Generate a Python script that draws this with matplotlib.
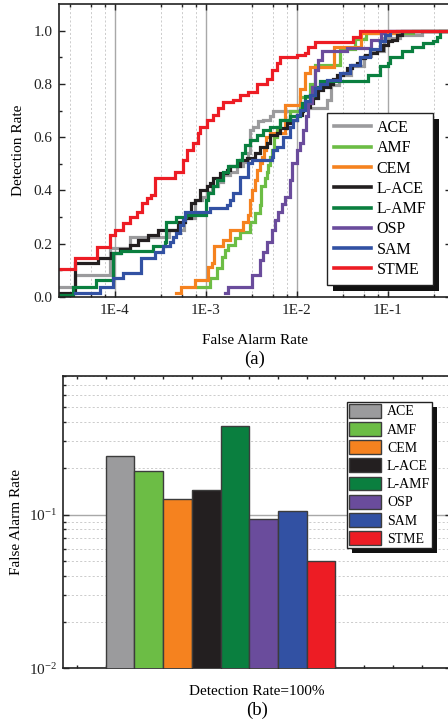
import numpy as np
import matplotlib
matplotlib.use('Agg')
import matplotlib.pyplot as plt
from matplotlib.patches import Rectangle
from matplotlib.lines import Line2D
from matplotlib.ticker import FixedLocator, NullFormatter, FixedFormatter, LogLocator
from matplotlib.transforms import IdentityTransform

plt.rcParams['font.family'] = ['Liberation Serif', 'DejaVu Serif']
plt.rcParams['mathtext.fontset'] = 'custom'
plt.rcParams['mathtext.rm'] = 'Liberation Serif'
plt.rcParams['mathtext.it'] = 'Liberation Serif:italic'

# ---------------- data ----------------
methods = ['ACE', 'AMF', 'CEM', 'L-ACE', 'L-AMF', 'OSP', 'SAM', 'STME']
colors = ['#9b9b9d', '#6cbd45', '#f5821f', '#231f20', '#0a7f3f', '#6a4c9c', '#3251a3', '#ed1c24']

ace_far = [2.38e-5, 3.66e-5, 8.87e-5, 1.47e-4, 3.94e-4, 5.78e-4, 7.62e-4, 9.10e-4, 1.03e-3, 1.16e-3,
           1.38e-3, 1.56e-3, 1.85e-3, 2.19e-3, 2.60e-3, 2.92e-3, 3.07e-3, 3.34e-3, 3.78e-3, 4.30e-3,
           5.09e-3, 5.53e-3, 1.09e-2, 2.17e-2, 2.36e-2, 2.92e-2, 3.92e-2, 5.49e-2, 6.50e-2, 9.10e-2,
           1.37e-1, 2.39e-1]
ace_dr = [0.039, 0.083, 0.184, 0.227, 0.252, 0.296, 0.365, 0.377, 0.396, 0.415,
          0.433, 0.459, 0.471, 0.49, 0.508, 0.54, 0.628, 0.64, 0.659, 0.665,
          0.678, 0.70, 0.71, 0.74, 0.797, 0.835, 0.866, 0.903, 0.922, 0.972,
          0.985, 1.0]

amf_far = [8.23e-4, 1.11e-3, 1.32e-3, 1.50e-3, 1.64e-3, 1.74e-3, 2.11e-3, 2.38e-3, 3.07e-3, 3.48e-3,
           3.95e-3, 4.05e-3, 4.49e-3, 4.68e-3, 4.88e-3, 5.09e-3, 5.31e-3, 5.63e-3, 6.08e-3, 6.56e-3,
           8.45e-3, 1.09e-2, 1.40e-2, 1.59e-2, 2.99e-2, 4.38e-2, 5.78e-2, 1.91e-1]
amf_dr = [0.039, 0.07, 0.108, 0.152, 0.177, 0.195, 0.22, 0.245, 0.283, 0.315,
          0.346, 0.415, 0.446, 0.47, 0.496, 0.527, 0.553, 0.60, 0.64, 0.665,
          0.70, 0.75, 0.80, 0.87, 0.93, 0.97, 0.99, 1.0]

cem_far = [4.74e-4, 5.38e-4, 7.62e-4, 1.06e-3, 1.17e-3, 1.22e-3, 1.55e-3, 1.85e-3, 2.57e-3, 2.92e-3,
           3.07e-3, 3.23e-3, 3.48e-3, 3.66e-3, 3.95e-3, 4.16e-3, 4.32e-3, 4.60e-3, 5.09e-3, 7.45e-3,
           1.09e-2, 1.24e-2, 1.40e-2, 2.57e-2, 5.08e-2, 1.27e-1]
cem_dr = [0.015, 0.039, 0.064, 0.114, 0.127, 0.19, 0.214, 0.252, 0.283, 0.308,
          0.365, 0.40, 0.44, 0.477, 0.503, 0.527, 0.553, 0.60, 0.617, 0.72,
          0.78, 0.84, 0.865, 0.94, 0.99, 1.0]

lace_far = [2.38e-5, 3.66e-5, 6.55e-5, 9.18e-5, 1.14e-4, 1.46e-4, 1.80e-4, 2.32e-4, 2.99e-4, 4.97e-4,
            5.88e-4, 6.95e-4, 7.57e-4, 8.59e-4, 1.03e-3, 1.11e-3, 1.20e-3, 1.44e-3, 1.70e-3, 1.85e-3,
            2.38e-3, 2.82e-3, 3.48e-3, 3.95e-3, 4.68e-3, 5.09e-3, 6.03e-3, 6.56e-3, 7.77e-3, 8.45e-3,
            1.00e-2, 1.14e-2, 1.17e-2, 1.40e-2, 1.51e-2, 1.72e-2, 1.95e-2, 2.32e-2, 2.51e-2, 2.75e-2,
            3.23e-2, 3.54e-2, 4.02e-2, 4.56e-2, 4.97e-2, 5.63e-2, 6.38e-2, 7.57e-2, 8.88e-2, 1.01e-1,
            1.11e-1, 1.27e-1, 1.45e-1]
lace_dr = [0.016, 0.127, 0.145, 0.164, 0.179, 0.195, 0.214, 0.233, 0.252, 0.283,
           0.296, 0.352, 0.365, 0.40, 0.415, 0.427, 0.447, 0.466, 0.477, 0.49,
           0.515, 0.52, 0.54, 0.565, 0.578, 0.61, 0.617, 0.634, 0.653, 0.665,
           0.684, 0.697, 0.715, 0.728, 0.747, 0.778, 0.79, 0.80, 0.82, 0.835,
           0.84, 0.86, 0.872, 0.88, 0.897, 0.91, 0.915, 0.929, 0.947, 0.96,
           0.966, 0.985, 1.0]

lamf_far = [2.38e-5, 3.48e-5, 6.28e-5, 9.6e-5, 1.18e-4, 2.66e-4, 3.57e-4, 3.69e-4, 4.75e-4, 6.12e-4,
            1.01e-3, 1.06e-3, 1.20e-3, 1.32e-3, 1.55e-3, 1.76e-3, 2.19e-3, 2.49e-3, 2.70e-3, 3.07e-3,
            3.63e-3, 4.30e-3, 5.09e-3, 6.56e-3, 8.45e-3, 1.09e-2, 1.14e-2, 1.24e-2, 1.51e-2, 1.80e-2,
            6.12e-2, 8.30e-2, 1.01e-1, 1.06e-1, 1.44e-1, 1.85e-1, 2.44e-1, 3.15e-1, 3.48e-1, 3.74e-1]
lamf_dr = [0.008, 0.039, 0.064, 0.164, 0.173, 0.19, 0.208, 0.283, 0.30, 0.308,
           0.365, 0.39, 0.415, 0.44, 0.47, 0.49, 0.515, 0.54, 0.57, 0.59,
           0.61, 0.628, 0.64, 0.665, 0.678, 0.703, 0.73, 0.753, 0.79, 0.81,
           0.835, 0.868, 0.88, 0.90, 0.922, 0.94, 0.955, 0.96, 0.977, 1.0]

osp_far = [1.64e-3, 1.77e-3, 3.23e-3, 3.95e-3, 4.27e-3, 4.72e-3, 5.36e-3, 5.78e-3, 6.24e-3, 6.90e-3,
           7.45e-3, 8.45e-3, 8.89e-3, 1.01e-2, 1.09e-2, 1.17e-2, 1.27e-2, 1.33e-2, 1.47e-2, 1.59e-2,
           1.72e-2, 1.90e-2, 3.57e-2, 6.55e-2, 8.5e-2, 9.3e-2]
osp_dr = [0.014, 0.039, 0.083, 0.139, 0.17, 0.208, 0.252, 0.29, 0.32, 0.35,
          0.377, 0.44, 0.503, 0.553, 0.578, 0.628, 0.68, 0.73, 0.79, 0.853,
          0.89, 0.922, 0.936, 0.966, 0.99, 1.0]

sam_far = [3.66e-5, 6.84e-5, 9.6e-5, 1.23e-4, 1.95e-4, 2.77e-4, 3.40e-4, 4.06e-4, 4.38e-4, 4.72e-4,
           5.22e-4, 5.64e-4, 5.93e-4, 1.11e-3, 1.70e-3, 1.85e-3, 2.00e-3, 2.38e-3, 2.92e-3, 3.23e-3,
           5.31e-3, 5.49e-3, 6.03e-3, 7.07e-3, 8.45e-3, 9.10e-3, 1.00e-2, 1.09e-2, 1.24e-2, 1.40e-2,
           1.59e-2, 1.80e-2, 2.14e-2, 2.99e-2, 3.86e-2, 4.97e-2, 6.38e-2, 8.22e-2, 9.33e-2, 1.05e-1]
sam_dr = [0.014, 0.039, 0.07, 0.089, 0.145, 0.17, 0.19, 0.208, 0.227, 0.24,
          0.27, 0.29, 0.32, 0.335, 0.346, 0.365, 0.39, 0.45, 0.503, 0.515,
          0.527, 0.553, 0.565, 0.60, 0.64, 0.665, 0.684, 0.703, 0.734, 0.76,
          0.785, 0.80, 0.816, 0.84, 0.87, 0.90, 0.93, 0.96, 0.985, 1.0]

stme_far = [2.38e-5, 3.66e-5, 6.39e-5, 8.87e-5, 1.01e-4, 1.23e-4, 1.47e-4, 1.76e-4, 2.00e-4, 2.27e-4,
            2.51e-4, 2.77e-4, 4.60e-4, 5.64e-4, 6.24e-4, 7.26e-4, 8.23e-4, 8.65e-4, 1.03e-3, 1.20e-3,
            1.36e-3, 1.55e-3, 2.00e-3, 2.38e-3, 2.92e-3, 3.66e-3, 4.72e-3, 5.36e-3, 6.08e-3, 6.56e-3,
            1.01e-2, 1.24e-2, 1.33e-2, 1.59e-2, 4.16e-2, 4.97e-2]
stme_dr = [0.105, 0.148, 0.189, 0.233, 0.252, 0.278, 0.30, 0.32, 0.353, 0.37,
           0.383, 0.446, 0.471, 0.515, 0.553, 0.578, 0.615, 0.64, 0.665, 0.684,
           0.71, 0.733, 0.74, 0.76, 0.77, 0.80, 0.82, 0.853, 0.88, 0.90,
           0.91, 0.917, 0.94, 0.959, 0.977, 1.0]

roc_far = [ace_far, amf_far, cem_far, lace_far, lamf_far, osp_far, sam_far, stme_far]
roc_dr = [ace_dr, amf_dr, cem_dr, lace_dr, lamf_dr, osp_dr, sam_dr, stme_dr]

# false alarm rate at detection rate = 100%
far_at_full = [0.239, 0.191, 0.127, 0.145, 0.374, 0.093, 0.105, 0.050]

x_major = [1e-4, 1e-3, 1e-2, 1e-1]
x_major_labels = ['1E-4', '1E-3', '1E-2', '1E-1']

# ---------------- figure ----------------
W, H = 448, 725
fig = plt.figure(figsize=(W / 100, H / 100), dpi=100)

def px_axes(left, top, right, bottom):
    return fig.add_axes([left / W, (H - bottom) / H, (right - left) / W, (bottom - top) / H])

# ---- (a) ROC ----
ax1 = px_axes(59.3, 4, 450.5, 297)
ax1.set_xscale('log')
x_right = 0.49
ax1.set_xlim(2.46e-5, x_right)
ax1.set_ylim(0, 1.1)

minor_x = [m * 10.0 ** k for k in range(-5, 0) for m in (3.25, 5.5, 7.75)]
ax1.xaxis.set_major_locator(FixedLocator(x_major))
ax1.xaxis.set_major_formatter(FixedFormatter(x_major_labels))
ax1.xaxis.set_minor_locator(FixedLocator(minor_x))
ax1.xaxis.set_minor_formatter(NullFormatter())
ax1.set_yticks(np.arange(0, 1.01, 0.2))
ax1.set_yticklabels(['%.1f' % v for v in np.arange(0, 1.01, 0.2)])
ax1.set_yticks(np.arange(0.1, 1.1, 0.2), minor=True)

ax1.grid(which='major', axis='x', color='#a8a8a8', lw=1.0, ls='-')
ax1.grid(which='minor', axis='x', color='#c4c4c4', lw=0.6, ls=(0, (2.5, 2.5)))
ax1.set_axisbelow(True)

ax1.tick_params(which='both', direction='in', top=True, right=True, width=1.0,
                labelsize=11, colors='#222222')
ax1.tick_params(which='major', length=4.5, pad=5)
ax1.tick_params(which='minor', length=2.5)
for s in ax1.spines.values():
    s.set_linewidth(1.2)
    s.set_color('#222222')

for far, dr, c in zip(roc_far, roc_dr, colors):
    xs = list(far) + [x_right * 1.2]
    ys = list(dr) + [dr[-1]]
    ax1.plot(xs, ys, drawstyle='steps-post', color=c, lw=2.3, solid_joinstyle='miter')

handles1 = [Line2D([0], [0], color=c, lw=2.6) for c in colors]
leg1 = ax1.legend(handles1, methods, loc='upper left', bbox_to_anchor=(0.684, 0.629),
                  fontsize=11.5, frameon=True, fancybox=False, edgecolor='#222222',
                  framealpha=1, handlelength=2.3, handletextpad=0.35, labelspacing=0.27,
                  borderpad=0.45, borderaxespad=0)
leg1.get_frame().set_linewidth(1.0)

fig.text(254.9 / W, (H - 340) / H, 'False Alarm Rate', ha='center', va='center', fontsize=11)
fig.text(254.9 / W, (H - 359) / H, '(a)', ha='center', va='center', fontsize=13.5)
fig.text(18 / W, (H - 150.5) / H, 'Detection Rate', ha='center', va='center',
         rotation=90, fontsize=11)

# ---- (b) bars ----
ax2 = px_axes(62.7, 375.7, 450.5, 668.3)
ax2.set_yscale('log')
ax2.set_ylim(0.01, 0.8)
ax2.set_xlim(-1, 12.51)
pos = np.arange(1, len(methods) + 1)
ax2.bar(pos, far_at_full, width=1.0, color=colors, edgecolor='#3c3c3c', lw=1.0, zorder=3)
ax2.yaxis.set_major_locator(FixedLocator([0.01, 0.1]))
ax2.yaxis.set_major_formatter(FixedFormatter([r'$10^{-2}$', r'$10^{-1}$']))
ax2.yaxis.set_minor_locator(LogLocator(base=10, subs=np.arange(2, 10)))
ax2.yaxis.set_minor_formatter(NullFormatter())
ax2.set_xticks(np.arange(-0.5, 12.6, 1.0))
ax2.set_xticklabels([])
ax2.grid(which='major', axis='y', color='#a8a8a8', lw=1.0, ls='-', zorder=0)
ax2.grid(which='minor', axis='y', color='#c4c4c4', lw=0.6, ls=(0, (2.5, 2.5)), zorder=0)
ax2.set_axisbelow(True)
ax2.tick_params(which='both', direction='in', top=True, right=True, width=1.0,
                labelsize=11, colors='#222222')
ax2.tick_params(which='major', length=4.5, pad=4)
ax2.tick_params(which='minor', length=2.5)
ax2.tick_params(axis='x', which='major', length=2.5)
for s in ax2.spines.values():
    s.set_linewidth(1.2)
    s.set_color('#222222')

handles2 = [Rectangle((0, 0), 1, 1, facecolor=c, edgecolor='#3c3c3c', lw=1.0) for c in colors]
leg2 = ax2.legend(handles2, methods, loc='upper left', bbox_to_anchor=(0.734, 0.911),
                  fontsize=10, frameon=True, fancybox=False, edgecolor='#222222',
                  framealpha=1, handlelength=2.3, handleheight=1.15, handletextpad=0.4,
                  labelspacing=0.26, borderpad=0.15, borderaxespad=0)
leg2.get_frame().set_linewidth(1.0)

fig.text(256.6 / W, (H - 691.7) / H, 'Detection Rate=100%', ha='center', va='center', fontsize=11)
fig.text(256.6 / W, (H - 710) / H, '(b)', ha='center', va='center', fontsize=13.5)
fig.text(17 / W, (H - 522) / H, 'False Alarm Rate', ha='center', va='center',
         rotation=90, fontsize=11)

# shadows behind the legends
fig.canvas.draw()
for ax, leg, off in ((ax1, leg1, 6), (ax2, leg2, 5)):
    bb = leg.get_frame().get_window_extent(fig.canvas.get_renderer())
    sh = Rectangle((bb.x0 + off, bb.y0 - off), bb.width, bb.height, transform=IdentityTransform(),
                   facecolor='#111111', edgecolor='none', zorder=leg.get_zorder() - 0.5,
                   clip_on=False)
    ax.add_artist(sh)

fig.savefig('out.png', dpi=100)
